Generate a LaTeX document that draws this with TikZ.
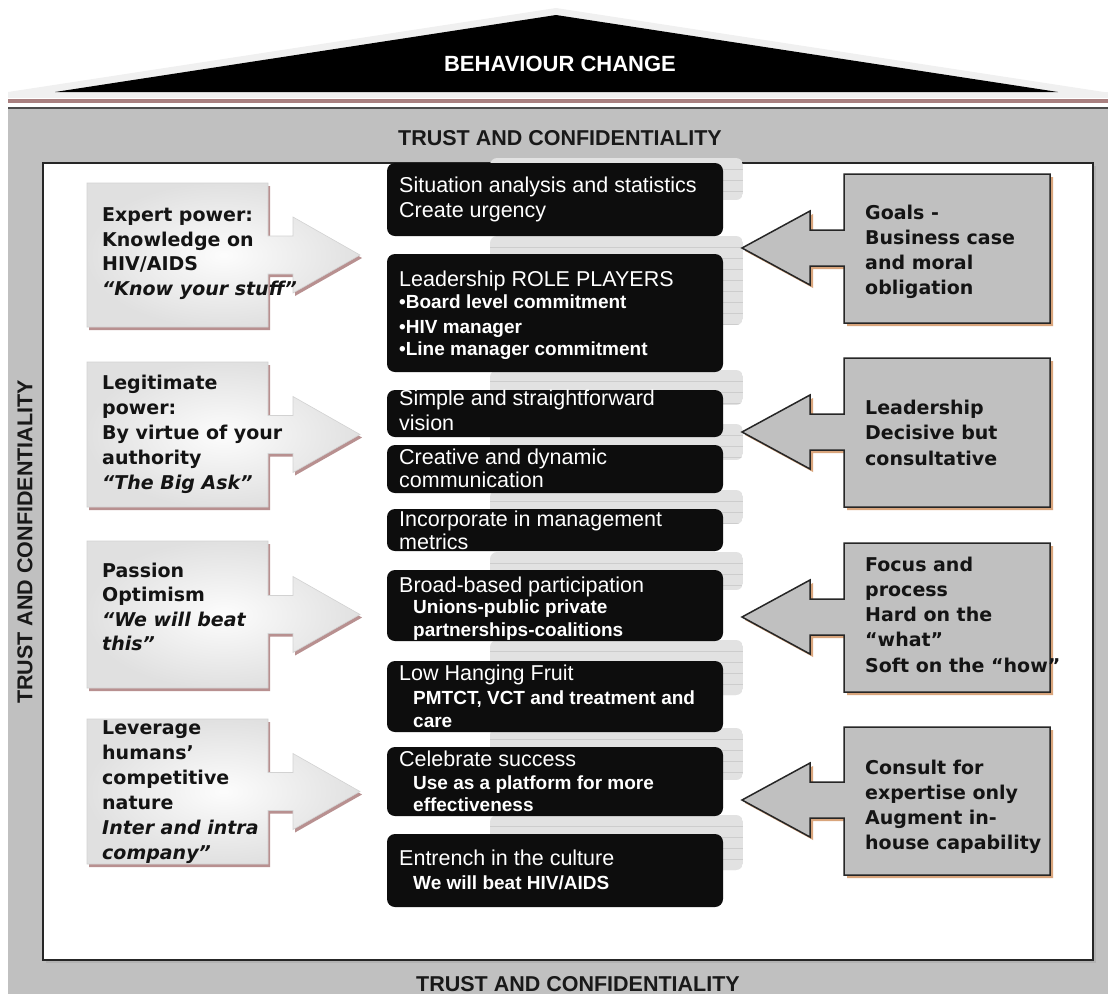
\documentclass[tikz,border=0pt]{standalone}
\usepackage{fontspec}
\setmainfont{Liberation Sans}
\newfontfamily\dvs{DejaVu Sans}
\definecolor{wallgray}{HTML}{C0C0C0}
\definecolor{stackgray}{HTML}{E2E2E2}
\definecolor{stackline}{HTML}{CDCDCD}
\definecolor{brownline}{HTML}{A98080}
\definecolor{orangeshadow}{HTML}{D9A57C}
\definecolor{pinkshadow}{HTML}{B89090}
\definecolor{nearblack}{HTML}{0D0D0D}
\definecolor{roofout}{HTML}{F0F0F0}
\tikzset{
 ctitle/.style={anchor=base west, inner sep=0pt, font=\fontsize{21.5}{25}\selectfont, text=white},
 csub/.style={anchor=base west, inner sep=0pt, font=\bfseries\fontsize{19}{23}\selectfont, text=white},
 sidetext/.style={font=\dvs\bfseries\fontsize{19}{25}\selectfont, text=black!92},
 heading/.style={font=\bfseries\fontsize{21.5}{25}\selectfont, text=black!90, inner sep=0pt},
 cbox/.style={fill=nearblack, rounded corners=8pt, inner sep=0pt, outer sep=0pt, minimum width=336pt},
 lshape/.style={inner color=gray!2, outer color=gray!24, draw=gray!35, line width=0.6pt},
 lshadow/.style={fill=pinkshadow},
 rshape/.style={fill=wallgray, draw=black!85, line width=1.5pt},
 rshadow/.style={fill=orangeshadow},
}
\newcommand\leftblock[3]{%
 \fill[lshadow, shift={(2,3)}] (87,#1) -- (268,#1) -- (268,{#3-19}) -- (293,{#3-19}) -- (293,{#3-38}) -- (360,#3) -- (293,{#3+38}) -- (293,{#3+19}) -- (268,{#3+19}) -- (268,#2) -- (87,#2) -- cycle;
 \shade[lshape] (87,#1) -- (268,#1) -- (268,{#3-19}) -- (293,{#3-19}) -- (293,{#3-38}) -- (360,#3) -- (293,{#3+38}) -- (293,{#3+19}) -- (268,{#3+19}) -- (268,#2) -- (87,#2) -- cycle;
}
\newcommand\rightblock[3]{%
 \fill[rshadow, shift={(3,3)}] (1050,#1) -- (844,#1) -- (844,{#3-18}) -- (810,{#3-18}) -- (810,{#3-37}) -- (742,#3) -- (810,{#3+37}) -- (810,{#3+18}) -- (844,{#3+18}) -- (844,#2) -- (1050,#2) -- cycle;
 \filldraw[rshape] (1050,#1) -- (844,#1) -- (844,{#3-18}) -- (810,{#3-18}) -- (810,{#3-37}) -- (742,#3) -- (810,{#3+37}) -- (810,{#3+18}) -- (844,{#3+18}) -- (844,#2) -- (1050,#2) -- cycle;
}
\newcommand\grstack[2]{%
 \begin{scope}
 \clip[rounded corners=7pt] (490,#1) rectangle (743,#2);
 \fill[stackgray] (490,#1) rectangle (743,#2);
 \foreach \k in {1,...,9} \draw[stackline, line width=0.8pt] (490,{#1+11*\k}) -- (743,{#1+11*\k});
 \end{scope}}
\newcommand\txtlines[6]{\foreach \tline [count=\i from 0] in {#6} {\node[anchor=base west, inner sep=0pt, #5] (#1-\i) at (#2,{#3+#4*\i}) {\tline};}}
\begin{document}
\begin{tikzpicture}[x=1pt,y=-1pt]
\useasboundingbox (0,0) rectangle (1108,994);
% roof
\fill[roofout] (8,92) -- (556,8) -- (1104,92) -- cycle;
\fill[gray!12] (8,92) rectangle (1108,98);
\fill[brownline] (8,99) rectangle (1108,103);
\fill[black] (55,92) -- (556,15) -- (1058,92) -- cycle;
\node[font=\bfseries\fontsize{22}{26}\selectfont, text=white, inner sep=0pt] (roof) at (560,64) {BEHAVIOUR CHANGE};
% walls
\fill[wallgray] (8,108) rectangle (1108,994);
\draw[gray!60!black, line width=1.5pt] (8,108) -- (1108,108);
\fill[gray!60] (46,166) rectangle (1096,963);
\filldraw[fill=white, draw=black!85, line width=2pt] (43,163) rectangle (1093,960);
\node[heading] (ttop) at (560,138) {TRUST AND CONFIDENTIALITY};
\node[heading] (tbot) at (578,984) {TRUST AND CONFIDENTIALITY};
\node[heading, rotate=90] (tleft) at (25,542) {TRUST AND CONFIDENTIALITY};
% stacks behind center boxes
\grstack{158}{200}
\grstack{236}{325}
\grstack{370}{405}
\grstack{424}{460}
\grstack{490}{524}
\grstack{552}{590}
\grstack{640}{695}
\grstack{728}{780}
\grstack{815}{870}
% center black boxes
\node[cbox, minimum height=73pt] (b1) at (555,199.5) {};
\node[cbox, minimum height=118pt] (b2) at (555,313) {};
\node[cbox, minimum height=47pt] (b3) at (555,413.5) {};
\node[cbox, minimum height=48pt] (b4) at (555,469) {};
\node[cbox, minimum height=42pt] (b5) at (555,530) {};
\node[cbox, minimum height=71pt] (b6) at (555,605.5) {};
\node[cbox, minimum height=71pt] (b7) at (555,696.5) {};
\node[cbox, minimum height=69pt] (b8) at (555,781.5) {};
\node[cbox, minimum height=73pt] (b9) at (555,870.5) {};
% center texts
\node[ctitle] (b1a) at (399,192.5) {Situation analysis and statistics};
\node[ctitle] (b1b) at (399,217.5) {Create urgency};
\node[ctitle] (b2a) at (399,286) {Leadership ROLE PLAYERS};
\node[csub] (b2b) at (399,308.5) {•Board level commitment};
\node[csub] (b2c) at (399,333) {•HIV manager};
\node[csub] (b2d) at (399,355) {•Line manager commitment};
\node[ctitle] (b3a) at (399,405.5) {Simple and straightforward};
\node[ctitle] (b3b) at (399,430.5) {vision};
\node[ctitle] (b4a) at (399,464.5) {Creative and dynamic};
\node[ctitle] (b4b) at (399,487.5) {communication};
\node[ctitle] (b5a) at (399,526.5) {Incorporate in management};
\node[ctitle] (b5b) at (399,549) {metrics};
\node[ctitle] (b6a) at (399,592.5) {Broad-based participation};
\node[csub] (b6b) at (413,613.5) {Unions-public private};
\node[csub] (b6c) at (413,636.5) {partnerships-coalitions};
\node[ctitle] (b7a) at (399,680.5) {Low Hanging Fruit};
\node[csub] (b7b) at (413,704.5) {PMTCT, VCT and treatment and};
\node[csub] (b7c) at (413,727.5) {care};
\node[ctitle] (b8a) at (399,766.5) {Celebrate success};
\node[csub] (b8b) at (413,789.5) {Use as a platform for more};
\node[csub] (b8c) at (413,811.5) {effectiveness};
\node[ctitle] (b9a) at (399,865.5) {Entrench in the culture};
\node[csub] (b9b) at (413,889.5) {We will beat HIV/AIDS};
% left blocks
\leftblock{183}{327}{255}
\leftblock{362}{507}{434.5}
\leftblock{541}{688}{614.5}
\leftblock{719}{864}{791.5}
\txtlines{L1}{102}{221.5}{24.5}{sidetext}{Expert power:, Knowledge on, {HIV/AIDS}, {\itshape “Know your stuff”}}
\txtlines{L2}{102}{389}{25}{sidetext}{Legitimate, power:, By virtue of your, authority, {\itshape “The Big Ask”}}
\txtlines{L3}{102}{577}{24.5}{sidetext}{Passion, Optimism, {\itshape “We will beat}, {\itshape this”}}
\txtlines{L4}{102}{734}{25}{sidetext}{Leverage, humans’, competitive, nature, {\itshape Inter and intra}, {\itshape company”}}
% right blocks
\rightblock{174}{323}{248}
\rightblock{358}{507}{432}
\rightblock{543}{692}{617}
\rightblock{727}{875}{800}
\txtlines{R1}{865}{219}{25}{sidetext}{Goals -, Business case, and moral, obligation}
\txtlines{R2}{865}{414}{25.5}{sidetext}{Leadership, Decisive but, consultative}
\txtlines{R3}{865}{571}{25.3}{sidetext}{Focus and, process, Hard on the, “what”, Soft on the “how”}
\txtlines{R4}{865}{774}{25}{sidetext}{Consult for, expertise only, Augment in-, house capability}
\end{tikzpicture}
\end{document}
